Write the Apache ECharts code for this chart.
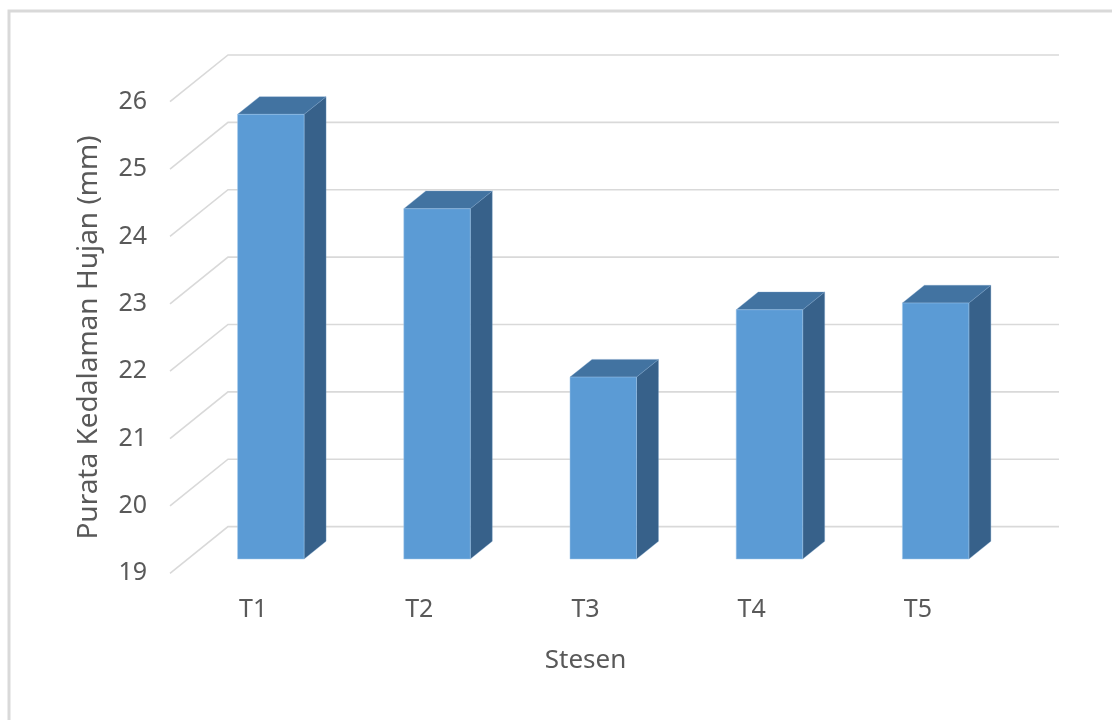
<!DOCTYPE html>
<html>
<head>
<meta charset="utf-8">
<title>Purata Kedalaman Hujan</title>
<script src="https://cdn.jsdelivr.net/npm/echarts@6/dist/echarts.min.js"></script>
<style>
  html, body { margin: 0; padding: 0; background: #ffffff; }
  #chart { width: 1112px; height: 720px; }
</style>
</head>
<body>
<div id="chart"></div>
<script>
// Station names, mean rainfall depth (mm) and value-axis ticks
const categories = ['T1', 'T2', 'T3', 'T4', 'T5'];
const rainfall = [25.6, 24.2, 21.7, 22.7, 22.8];
const yTicks = [19, 20, 21, 22, 23, 24, 25, 26];
const yMin = 19;
const yMax = 26;

// Oblique projection of the plot depth (front plane -> back wall), in px
const DX = 58;
const DY = -46.7;
// Bars sit between these depth fractions
const F0 = 0.306;
const F1 = 0.685;

const TEXT = '#595959';
const GRID = '#d9d9d9';
const FRONT = '#5b9bd5';
const TOP = '#4273a1';
const SIDE = '#37618a';

const chart = echarts.init(document.getElementById('chart'));

// Gridline: short diagonal on the side wall, then across the back wall
function renderGridLine(params, api) {
  const cs = params.coordSys;
  const y = api.coord([0, api.value(1)])[1];
  const x0 = cs.x;
  const x1 = cs.x + cs.width;
  return {
    type: 'polyline',
    shape: { points: [[x0, y], [x0 + DX, y + DY], [x1 + DX, y + DY]] },
    style: { stroke: GRID, lineWidth: 1.6, fill: null },
    silent: true
  };
}

// Box-shaped column: front face, top face and right side face
function renderBar(params, api) {
  const i = api.value(0);
  const top = api.coord([i, api.value(1)]);
  const base = api.coord([i, yMin]);
  const w = api.size([1, 0])[0] * 0.4;
  const cx = top[0] + F0 * DX;
  const xl = cx - w / 2;
  const xr = cx + w / 2;
  const yt = top[1] + F0 * DY;
  const yb = base[1] + F0 * DY;
  const dx = (F1 - F0) * DX;
  const dy = (F1 - F0) * DY;
  return {
    type: 'group',
    children: [
      {
        type: 'polygon',
        shape: { points: [[xr, yt], [xr, yb], [xr + dx, yb + dy], [xr + dx, yt + dy]] },
        style: { fill: SIDE, stroke: 'rgba(120,160,200,0.35)', lineWidth: 1 }
      },
      {
        type: 'polygon',
        shape: { points: [[xl, yt], [xr, yt], [xr + dx, yt + dy], [xl + dx, yt + dy]] },
        style: { fill: TOP, stroke: 'rgba(120,160,200,0.35)', lineWidth: 1 }
      },
      {
        type: 'rect',
        shape: { x: xl, y: yt, width: w, height: yb - yt },
        style: { fill: FRONT, stroke: 'rgba(160,200,235,0.5)', lineWidth: 1 }
      }
    ]
  };
}

const option = {
  backgroundColor: '#ffffff',
  animation: false,
  textStyle: { fontFamily: 'Noto Sans' },
  graphic: [
    {
      type: 'rect',
      shape: { x: 9, y: 11, width: 1300, height: 900 },
      style: { fill: null, stroke: GRID, lineWidth: 3 },
      silent: true
    }
  ],
  grid: { left: 170, right: 111, top: 101.7, bottom: 146.7, containLabel: false },
  xAxis: {
    type: 'category',
    data: categories,
    axisLine: { show: false },
    axisTick: { show: false },
    splitLine: { show: false },
    axisLabel: { color: TEXT, fontSize: 25, margin: 24, fontFamily: 'Noto Sans' },
    name: 'Stesen',
    nameLocation: 'middle',
    nameGap: 74,
    nameTextStyle: { color: TEXT, fontSize: 26, fontFamily: 'Noto Sans' }
  },
  yAxis: {
    type: 'value',
    min: yMin,
    max: yMax,
    interval: 1,
    axisLine: { show: false },
    axisTick: { show: false },
    splitLine: { show: false },
    axisLabel: { color: TEXT, fontSize: 25, margin: 23, fontFamily: 'Noto Sans' },
    name: 'Purata Kedalaman Hujan (mm)',
    nameLocation: 'middle',
    nameRotate: 90,
    nameGap: 67,
    nameTextStyle: { color: TEXT, fontSize: 28, fontFamily: 'Noto Sans' }
  },
  series: [
    {
      type: 'custom',
      name: 'grid',
      renderItem: renderGridLine,
      data: yTicks.map(v => [0, v]),
      silent: true,
      z: 1
    },
    {
      type: 'custom',
      name: 'Purata Kedalaman Hujan',
      renderItem: renderBar,
      data: rainfall.map((v, i) => [i, v]),
      z: 3
    }
  ]
};

chart.setOption(option);
</script>
</body>
</html>
